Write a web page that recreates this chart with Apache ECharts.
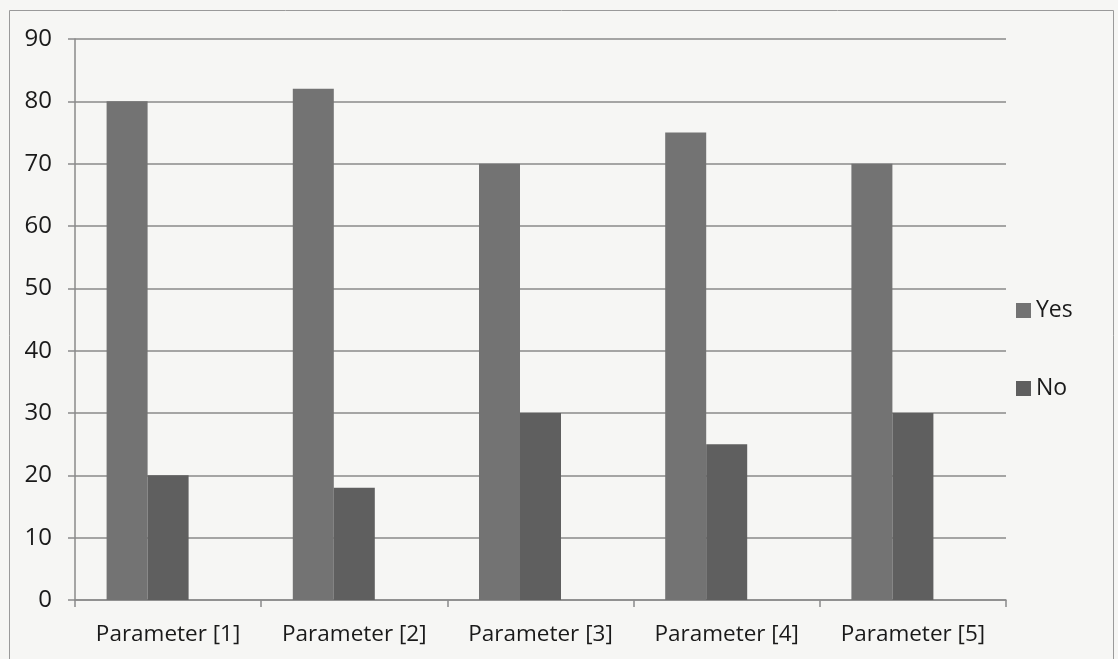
<!DOCTYPE html>
<html><head><meta charset="utf-8">
<script src="https://cdn.jsdelivr.net/npm/echarts@6/dist/echarts.min.js"></script>
<style>html,body{margin:0;padding:0;background:#f6f6f4;}#c{width:1118px;height:659px;}</style>
</head><body><div id="c"></div>
<script>
const categories = ['Parameter [1]','Parameter [2]','Parameter [3]','Parameter [4]','Parameter [5]'];
const yesValues = [80, 82, 70, 75, 70];
const noValues = [20, 18, 30, 25, 30];
const blankValues = [null, null, null, null, null];
const yTicks = [0, 90, 10];

const chart = echarts.init(document.getElementById('c'));
const font = 'Open Sans';
chart.setOption({
  backgroundColor: '#f6f6f4',
  animation: false,
  graphic: [{type:'rect', shape:{x:9.5,y:10.5,width:1104,height:700}, style:{fill:'none', stroke:'#9a9a9a', lineWidth:1}}],
  grid: {left: 75, right: 112, top: 39, bottom: 59, containLabel: false},
  legend: {
    orient: 'vertical', left: 1011, top: 294, itemWidth: 15, itemHeight: 15, itemGap: 55,
    data: ['Yes','No'],
    textStyle: {fontFamily: font, fontSize: 23, color: '#1a1a1a'},
    icon: 'rect'
  },
  xAxis: {
    type: 'category', data: categories,
    axisLine: {lineStyle: {color: '#8a8a8a', width: 1.5}},
    axisTick: {show: true, interval: 0, length: 7, lineStyle: {color: '#8a8a8a', width: 1.5}},
    axisLabel: {interval: 0, hideOverlap: false, fontFamily: font, fontSize: 22.5, color: '#1a1a1a', margin: 23}
  },
  yAxis: {
    type: 'value', min: yTicks[0], max: yTicks[1], interval: yTicks[2],
    axisLine: {show: true, lineStyle: {color: '#8a8a8a', width: 1.5}},
    axisTick: {show: true, length: 7, lineStyle: {color: '#8a8a8a', width: 1.5}},
    splitLine: {lineStyle: {color: '#8a8a8a', width: 1.5}},
    axisLabel: {fontFamily: font, fontSize: 24, color: '#1a1a1a', margin: 23}
  },
  series: [
    {name: 'Yes', type: 'bar', data: yesValues, barWidth: 41, barGap: '0%', itemStyle: {color: '#737373'}},
    {name: 'No', type: 'bar', data: noValues, barWidth: 41, barGap: '0%', itemStyle: {color: '#5f5f5f'}},
    {name: 'blank', type: 'bar', data: blankValues, barWidth: 41, barGap: '0%'}
  ]
});
</script></body></html>
